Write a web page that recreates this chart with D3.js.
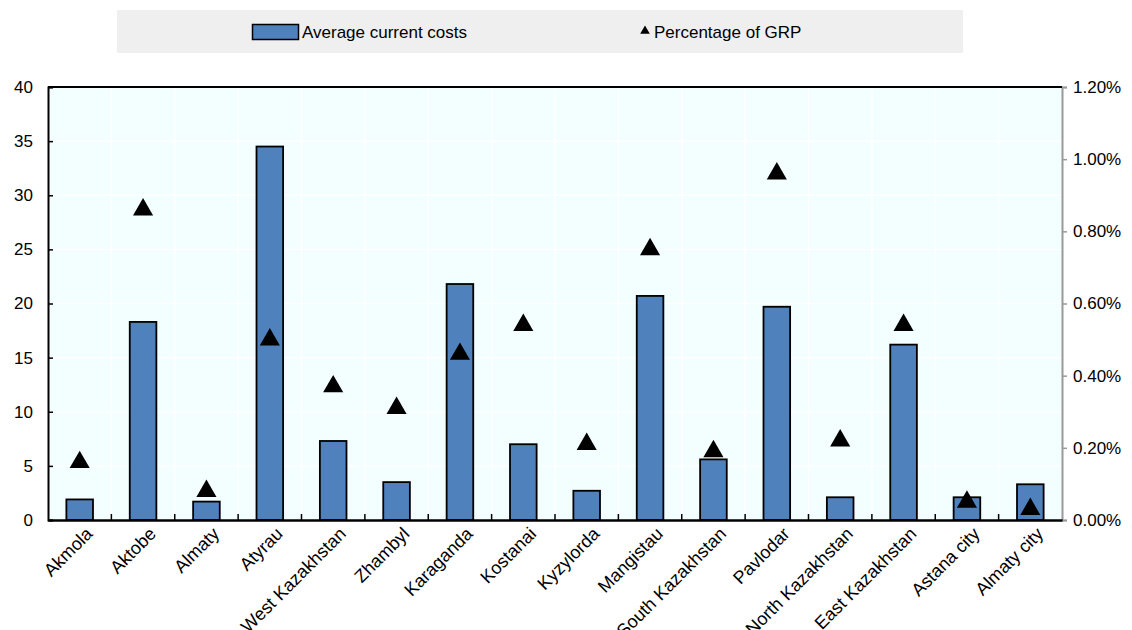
<!DOCTYPE html>
<html><head><meta charset="utf-8">
<script src="https://cdn.jsdelivr.net/npm/d3@7"></script>
<style>
body{margin:0;background:#fff;}
text{font-family:"Liberation Sans Narrow","Arial Narrow","Liberation Sans",Arial,sans-serif;fill:#000;}
</style></head><body>
<svg id="c" width="1132" height="630"></svg>
<script>
const categories = ["Akmola","Aktobe","Almaty","Atyrau","West Kazakhstan","Zhambyl","Karaganda","Kostanai","Kyzylorda","Mangistau","South Kazakhstan","Pavlodar","North Kazakhstan","East Kazakhstan","Astana city","Almaty city"];
const avgCosts = [1.9,18.3,1.7,34.5,7.3,3.5,21.8,7.0,2.7,20.7,5.6,19.7,2.1,16.2,2.1,3.3];
const pctGRP = [0.16,0.86,0.08,0.50,0.37,0.31,0.46,0.54,0.21,0.75,0.19,0.96,0.22,0.54,0.05,0.03];
const leftTicks = [0,5,10,15,20,25,30,35,40];
const rightTicks = [0,0.2,0.4,0.6,0.8,1.0,1.2];
const seriesNames = ["Average current costs","Percentage of GRP"];

const svg = d3.select("#c");
const L=48, R=1062, T=87, B=520;
const x = d3.scaleBand().domain(categories).range([L,R]).paddingInner(0.58).paddingOuter(0.29);
const xb = d3.scaleBand().domain(categories).range([L,R]);
const y = d3.scaleLinear().domain([0,40]).range([B,T]);
const y2 = d3.scaleLinear().domain([0,1.2]).range([B,T]);

// legend
svg.append("rect").attr("x",117).attr("y",10).attr("width",846).attr("height",43).attr("fill","#efefef");
svg.append("rect").attr("x",252.5).attr("y",24.5).attr("width",46).attr("height",15).attr("fill","#4f81bd").attr("stroke","#000").attr("stroke-width",1.5);
svg.append("text").attr("x",302).attr("y",38).attr("font-size",17).text(seriesNames[0]);
svg.append("path").attr("d",d3.symbol(d3.symbolTriangle,40)()).attr("transform","translate(645,31)").attr("fill","#000");
svg.append("text").attr("x",654).attr("y",38).attr("font-size",17).text(seriesNames[1]);

// plot bg
svg.append("rect").attr("x",L).attr("y",T).attr("width",R-L).attr("height",B-T).attr("fill","#f2feff");
// grid
svg.append("g").selectAll("line").data(leftTicks).join("line")
  .attr("x1",L).attr("x2",R).attr("y1",d=>y(d)).attr("y2",d=>y(d)).attr("stroke","#fff").attr("stroke-width",1.5);
svg.append("g").selectAll("line").data(categories.slice(1)).join("line")
  .attr("x1",d=>xb(d)).attr("x2",d=>xb(d)).attr("y1",T).attr("y2",B).attr("stroke","#fff").attr("stroke-width",1.5);

// bars
svg.append("g").selectAll("rect").data(categories).join("rect")
  .attr("x",d=>x(d)).attr("width",x.bandwidth())
  .attr("y",(d,i)=>y(avgCosts[i])).attr("height",(d,i)=>y(0)-y(avgCosts[i]))
  .attr("fill","#4f81bd").attr("stroke","#000").attr("stroke-width",1.8);

// triangles
svg.append("g").selectAll("path").data(categories).join("path")
  .attr("d",d3.symbol(d3.symbolTriangle,175)())
  .attr("transform",(d,i)=>`translate(${xb(d)+xb.bandwidth()/2},${y2(pctGRP[i])})`)
  .attr("fill","#000");

// left axis
const gl = svg.append("g").attr("transform",`translate(${L},0)`)
  .call(d3.axisLeft(y).tickValues(leftTicks).tickSize(-5).tickPadding(15));
gl.select(".domain").attr("stroke","#000").attr("stroke-width",2);
gl.selectAll(".tick line").attr("stroke","#000").attr("stroke-width",1.5);
gl.selectAll("text").attr("font-size",17).style("font-family",'"Liberation Sans Narrow","Liberation Sans",Arial');

// right axis
const gr = svg.append("g").attr("transform",`translate(${R},0)`)
  .call(d3.axisRight(y2).tickValues(rightTicks).tickSize(5).tickPadding(6).tickFormat(d=>d.toFixed(2)+"%"));
gr.select(".domain").attr("stroke","#999").attr("stroke-width",2);
gr.selectAll(".tick line").attr("stroke","#999").attr("stroke-width",1.5);
gr.selectAll("text").attr("font-size",17).style("font-family",'"Liberation Sans Narrow","Liberation Sans",Arial');

// top border
svg.append("line").attr("x1",L).attr("x2",R).attr("y1",T).attr("y2",T).attr("stroke","#000").attr("stroke-width",2);

// bottom axis
const gb = svg.append("g").attr("transform",`translate(0,${B})`)
  .call(d3.axisBottom(xb).tickSize(0).tickFormat(""));
gb.select(".domain").attr("stroke","#000").attr("stroke-width",2.5);
svg.append("g").selectAll("line").data(categories.slice(1)).join("line")
  .attr("x1",d=>xb(d)).attr("x2",d=>xb(d)).attr("y1",B).attr("y2",B-6).attr("stroke","#000").attr("stroke-width",1.5);
svg.append("g").selectAll("text").data(categories).join("text")
  .attr("text-anchor","end").attr("font-size",18)
  .attr("transform",d=>`translate(${xb(d)+xb.bandwidth()/2+14},${B+15}) rotate(-45)`)
  .text(d=>d);
</script></body></html>
